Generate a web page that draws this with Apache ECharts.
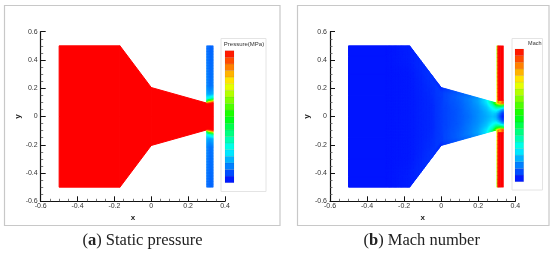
<!DOCTYPE html>
<html><head><meta charset="utf-8">
<style>html,body{margin:0;padding:0;background:#fff}#c{width:550px;height:253px;filter:blur(0.45px)}</style>
<script src="https://cdn.jsdelivr.net/npm/echarts@6/dist/echarts.min.js"></script>
</head><body><div id="c"></div>
<script>
// geometry (data coordinates)
const wallX = [-0.5, -0.17, 0, 0.3, 0.336];
const wallY = [0.5, 0.5, 0.205, 0.095, 0.095];
// pressure field in the nozzle
const pressureX = [-0.5, -0.17, 0, 0.3, 0.336];
const pressureT = [0, 1];
const pressureField = [[0.5,0.5],[0.5,0.5],[0.5,0.5],[0.5,0.5],[0.5,0.5]];
// pressure in the side strip
const stripX = [0.3, 0.318, 0.336];
const pressureStripY = [0.095, 0.105, 0.115, 0.13, 0.16, 0.22, 0.5];
const pressureStrip = [
  [0.5,0.5,0.5],[0.28,0.42,0.48],[0.16,0.3,0.35],[0.12,0.14,0.17],
  [0.09,0.08,0.09],[0.07,0.055,0.06],[0.055,0.05,0.05]];
// Mach field in the nozzle: one row per station, columns across the half height
const machX = [-0.5,-0.3,-0.17,-0.05,0,0.05,0.1,0.15,0.2,0.25,0.28,0.3,0.318,0.336];
const machT = [0,0.3,0.6,0.85,1];
const machField = [
  [0.02,0.02,0.02,0.02,0.02],[0.02,0.02,0.02,0.02,0.02],[0.025,0.025,0.025,0.03,0.03],
  [0.04,0.04,0.045,0.05,0.05],[0.06,0.06,0.06,0.06,0.04],[0.075,0.075,0.08,0.08,0.07],
  [0.09,0.09,0.095,0.1,0.09],[0.11,0.115,0.12,0.125,0.11],[0.14,0.14,0.15,0.16,0.15],
  [0.17,0.18,0.2,0.23,0.24],[0.19,0.21,0.26,0.33,0.4],[0.17,0.2,0.3,0.45,0.7],
  [0.08,0.13,0.25,0.5,0.9],[0.02,0.05,0.18,0.45,1]];
// Mach in the side strip
const machStripX = [0.3,0.305,0.31,0.318,0.336];
const machStripY = [0.095,0.105,0.115,0.5];
const machStrip = [
  [0.7,0.85,0.95,0.95,1],[0.6,0.8,0.85,0.7,0.9],[0.55,0.95,1,1,1],[0.35,1,1,1,1]];
// colour bar tick labels
const pressureTicks = ['0.000','0.025','0.050','0.075','0.100','0.125','0.150','0.175','0.200','0.225','0.250','0.275','0.300','0.325','0.350','0.375','0.400','0.425','0.450','0.475','0.500'];
const machTicks = ['0.00','0.05','0.10','0.15','0.20','0.25','0.30','0.35','0.40','0.45','0.50','0.55','0.60','0.65','0.70','0.75','0.80','0.85','0.90','0.95','1.00'];
const colorStops = [[0,0,255],[0,255,255],[0,255,0],[255,255,0],[255,0,0]];

function colorOf(f){
  f=Math.max(0,Math.min(1,f))*(colorStops.length-1);
  const i=Math.min(colorStops.length-2,Math.floor(f)),t=f-i,a=colorStops[i],b=colorStops[i+1];
  return 'rgb('+a.map((v,k)=>Math.round(v+(b[k]-v)*t)).join(',')+')';
}
function halfHeight(x){
  for(let i=0;i<wallX.length-1;i++) if(x<=wallX[i+1]) return wallY[i]+(wallY[i+1]-wallY[i])*(x-wallX[i])/(wallX[i+1]-wallX[i]);
  return wallY[wallY.length-1];
}
function nozzleCells(xs,ts,tab){
  const out=[];
  for(const s of [1,-1]) for(let i=0;i<xs.length-1;i++) for(let j=0;j<ts.length-1;j++){
    const h0=halfHeight(xs[i]),h1=halfHeight(xs[i+1]);
    out.push({p:[[xs[i],s*ts[j]*h0],[xs[i+1],s*ts[j]*h1],[xs[i+1],s*ts[j+1]*h1],[xs[i],s*ts[j+1]*h0]],
      v:[tab[i][j],tab[i+1][j],tab[i+1][j+1],tab[i][j+1]]});
  }
  return out;
}
function stripCells(xs,ys,tab){
  const out=[];
  for(const s of [1,-1]) for(let j=0;j<ys.length-1;j++) for(let i=0;i<xs.length-1;i++){
    out.push({p:[[xs[i],s*ys[j]],[xs[i+1],s*ys[j]],[xs[i+1],s*ys[j+1]],[xs[i],s*ys[j+1]]],
      v:[tab[j][i],tab[j][i+1],tab[j+1][i+1],tab[j+1][i]]});
  }
  return out;
}
function fieldSeries(idx,cells,vmax,lw){
  return {type:'custom',coordinateSystem:'cartesian2d',xAxisIndex:idx,yAxisIndex:idx,silent:true,animation:false,clip:false,
    data:cells.map(c=>[c.p[0][0],c.p[0][1]]),
    renderItem(params,api){
      const c=cells[params.dataIndex];
      const P=c.p.map(q=>api.coord(q));
      const w=Math.max(Math.abs(P[1][0]-P[0][0]),Math.abs(P[2][0]-P[3][0]));
      const h=Math.max(Math.abs(P[3][1]-P[0][1]),Math.abs(P[2][1]-P[1][1]));
      const flat=c.v.every(v=>v===c.v[0]);
      const nu=flat?1:Math.min(14,Math.ceil(w/1.2)),nv=flat?1:Math.min(14,Math.ceil(h/1.2));
      const mix=(arr,u,v)=>(arr[0]*(1-u)+arr[1]*u)*(1-v)+(arr[3]*(1-u)+arr[2]*u)*v;
      const pt=(u,v)=>[mix(P.map(q=>q[0]),u,v),mix(P.map(q=>q[1]),u,v)];
      const children=[];
      for(let a=0;a<nu;a++)for(let b=0;b<nv;b++){
        const u0=a/nu,u1=(a+1)/nu,v0=b/nv,v1=(b+1)/nv;
        const col=colorOf(mix(c.v,(u0+u1)/2,(v0+v1)/2)/vmax);
        children.push({type:'polygon',shape:{points:[pt(u0,v0),pt(u1,v0),pt(u1,v1),pt(u0,v1)]},
          style:{fill:col,stroke:col,lineWidth:lw,lineJoin:'bevel'}});
      }
      return {type:'group',children};
    }};
}
function barSeries(idx,ticks){
  const vals=ticks.map(Number),vmax=vals[vals.length-1];
  const bands=vals.slice(0,-1).map((v,i)=>[v,vals[i+1]]);
  return {type:'custom',coordinateSystem:'cartesian2d',xAxisIndex:idx,yAxisIndex:idx,silent:true,animation:false,
    data:bands,
    renderItem(params,api){
      const a=api.coord([0,api.value(0)]),b=api.coord([1,api.value(1)]);
      const mid=(api.value(0)+api.value(1))/2/vmax;
      return {type:'rect',shape:{x:a[0],y:b[1],width:b[0]-a[0],height:a[1]-b[1]},
        style:{fill:colorOf(mid),stroke:'rgba(0,0,0,0.12)',lineWidth:0.5}};
    }};
}
const mainAxis={
  axisLine:{show:true,onZero:false,lineStyle:{color:'#111',width:1.2}},
  axisTick:{show:true,inside:true,length:5,lineStyle:{color:'#111',width:1}},
  minorTick:{show:true,splitNumber:4,length:2.5,lineStyle:{color:'#555',width:0.8}},
  splitLine:{show:false},minorSplitLine:{show:false},
  nameLocation:'middle',nameTextStyle:{color:'#222',fontFamily:'Liberation Sans',fontWeight:'bold',fontSize:8}
};
function xA(i){return Object.assign({},mainAxis,{type:'value',gridIndex:i,min:-0.6,max:0.4,interval:0.2,position:'bottom',name:'x',nameGap:8,
  axisLabel:{color:'#333',fontFamily:'Liberation Sans',fontSize:7,margin:1}})}
function yA(i){return Object.assign({},mainAxis,{type:'value',gridIndex:i,min:-0.6,max:0.6,interval:0.2,position:'left',name:'y',nameGap:18.5,nameRotate:90,
  axisLabel:{color:'#333',fontFamily:'Liberation Sans',fontSize:7,margin:3}})}
function barX(i){return {type:'value',gridIndex:i,min:0,max:1,show:false}}
function barY(i,ticks,fs,m){const vals=ticks.map(Number);return {type:'value',gridIndex:i,min:0,max:vals[vals.length-1],interval:vals[1],position:'right',
  axisLine:{show:false},axisTick:{show:false},splitLine:{show:false},
  axisLabel:{color:'#333',fontFamily:'Liberation Sans',fontSize:fs,margin:m,formatter:(v)=>ticks[Math.round(v/vals[1])]}}}
function caption(cx,letter,text){
  return {type:'text',x:cx,y:241,z:5,style:{text:'{p|(}{b|'+letter+'}{p|) '+text+'}',align:'center',verticalAlign:'middle',
    rich:{p:{fontFamily:'Liberation Serif',fontSize:16.5,fill:'#222',color:'#222'},b:{fontFamily:'Liberation Serif',fontSize:16.5,fontWeight:'bold',fill:'#222',color:'#222'}}}};
}
const panel=(x,w)=>({type:'rect',z:0,shape:{x:x,y:5.5,width:w,height:220},style:{fill:'#fff',stroke:'#c8c8c8',lineWidth:1.2}});
const box=(x,y,w,h)=>({type:'rect',z:1,shape:{x:x,y:y,width:w,height:h},style:{fill:'#fff',stroke:'#e4e4e4',lineWidth:1}});
const chart=echarts.init(document.getElementById('c'),null,{renderer:'canvas'});
chart.setOption({
  animation:false,backgroundColor:'#fff',
  grid:[
    {left:40.7,top:31.7,width:184.3,height:169.6},
    {left:330,top:31.7,width:185.3,height:169.6},
    {left:225,top:50.7,width:9,height:132},
    {left:515,top:49,width:8.7,height:132.7}
  ],
  xAxis:[xA(0),xA(1),barX(2),barX(3)],
  yAxis:[yA(0),yA(1),barY(2,pressureTicks,6,5),barY(3,machTicks,5.5,6)],
  series:[
    fieldSeries(0,nozzleCells(pressureX,pressureT,pressureField),0.5,1),
    fieldSeries(0,stripCells(stripX,pressureStripY,pressureStrip),0.5,0.6),
    fieldSeries(1,nozzleCells(machX,machT,machField),1,1),
    fieldSeries(1,stripCells(machStripX,machStripY,machStrip),1,0.6),
    barSeries(2,pressureTicks),
    barSeries(3,machTicks)
  ],
  graphic:[
    panel(4.5,275.5),panel(297.5,251.5),
    box(221,38.5,45,153),box(512,38.5,30.5,151.5),
    {type:'text',x:244,y:44.5,z:5,style:{text:'Pressure(MPa)',align:'center',verticalAlign:'middle',fontFamily:'Liberation Sans',fontSize:6,fill:'#333'}},
    {type:'text',x:541.5,y:43,z:5,style:{text:'Mach',align:'right',verticalAlign:'middle',fontFamily:'Liberation Sans',fontSize:5.5,fill:'#333'}},
    caption(142.5,'a','Static pressure'),
    caption(421.7,'b','Mach number')
  ]
});
</script></body></html>
